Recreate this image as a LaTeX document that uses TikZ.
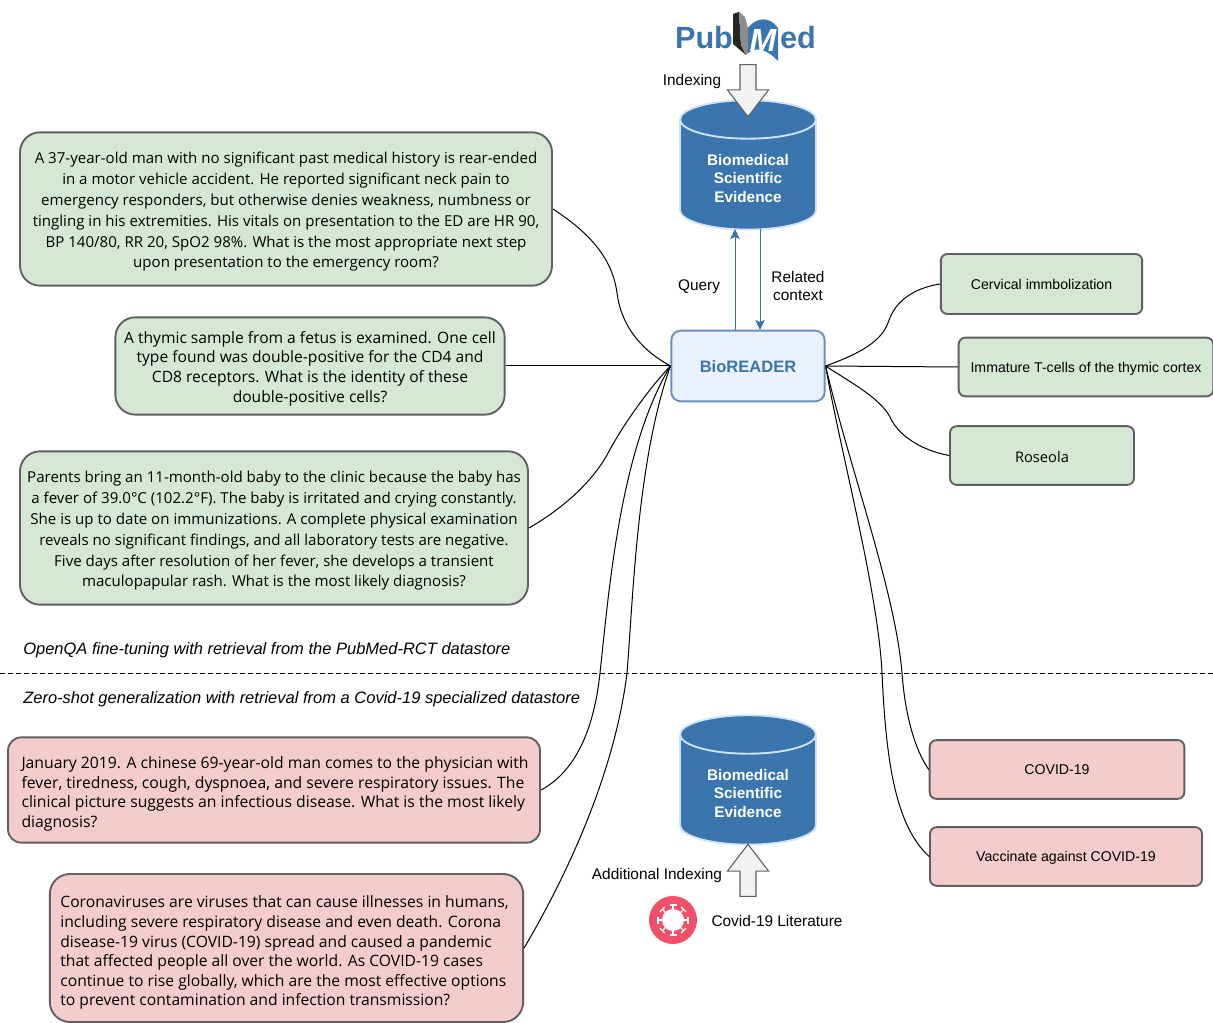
\documentclass[tikz,border=0pt]{standalone}
\usepackage{fontspec}
\setmainfont{Liberation Sans}
\newfontfamily\qafont{Open Sans}
\usetikzlibrary{positioning, arrows, arrows.meta, shapes.geometric, shapes.arrows}
\definecolor{dbblue}{HTML}{3A76AD}
\definecolor{dbrim}{HTML}{CFE4F8}
\definecolor{qagreen}{HTML}{D5E8D4}
\definecolor{qared}{HTML}{F4CCCC}
\definecolor{boxedge}{HTML}{5F5F5F}
\definecolor{virusred}{HTML}{F0506A}
\definecolor{readeredge}{HTML}{6C8EBF}
\definecolor{readerfill}{HTML}{EAF2FC}
\newcommand{\qatop}{\rule{0pt}{13pt}}
\newcommand{\sink}[2]{\raisebox{-#1}[\height][\depth]{#2}}
\tikzset{
qabox/.style={
  draw=boxedge,
  rectangle,
  line width=1.4pt,
  rounded corners=15pt,
  inner sep=0pt,
  align=center,
  font=\qafont\fontsize{11.3}{15.6}\selectfont
  },
ansbox/.style={
  draw=boxedge,
  rectangle,
  line width=1.4pt,
  rounded corners=5pt,
  inner sep=0pt,
  align=center,
  font=\fontsize{10.6}{13}\selectfont
  },
datastore/.style={
  cylinder,
  shape border rotate=90,
  aspect=0.47,
  draw=dbrim,
  line width=1.4pt,
  fill=dbblue,
  text=white,
  inner sep=0pt,
  minimum width=102pt,
  minimum height=97pt,
  align=center,
  font=\bfseries\fontsize{11.5}{13.9}\selectfont
  },
indexarrow/.style={
  single arrow,
  draw=boxedge,
  fill=black!5,
  line width=0.8pt,
  inner sep=5.6pt,
  minimum width=30pt,
  minimum height=39pt,
  single arrow head extend=9.4pt,
  single arrow tip angle=75,
  single arrow head indent=0pt
  },
tag/.style={font=\fontsize{11.55}{14.2}\selectfont, align=center, inner sep=0pt},
section/.style={font=\itshape\fontsize{12.38}{14}\selectfont, anchor=west, inner sep=0pt},
logo/.style={font=\bfseries\fontsize{23}{23}\selectfont, text=dbblue, inner sep=0pt},
curve/.style={black, line width=0.75pt},
line/.style={-{Stealth[length=7.5pt,width=7pt,inset=1.5pt]}, draw=dbblue, fill=dbblue, line width=0.75pt}
}
\begin{document}
\begin{tikzpicture}[x=0.75pt,y=-0.75pt]
\useasboundingbox (0,0) rectangle (1213,1023);

% PubMed logo
\fill[black!85] (733,14) -- (739,12) -- (741,45) -- (746,55) -- (733,44) -- cycle;
\fill[black!45] (739,12) -- (745,17) -- (748,28) -- (748,53) -- (746,55) -- (741,45) -- cycle;
\fill[dbblue] (748,28) .. controls (752,22) and (766,12) .. (778,28) -- (778,61) .. controls (768,50) and (756,46) .. (748,53) -- cycle;
\node[logo]				(pub)		at (704,38)		{Pub};
\node[logo, text=white, font=\bfseries\itshape\fontsize{24}{24}\selectfont]	(emm)	at (763,40)	{M};
\node[logo]				(ed)		at (798,38)		{ed};

% retrieval stores
\node[datastore]		(store)		at (748,175)	{\qatop Biomedical \\ Scientific \\ Evidence};
\node[datastore]		(covidstore)	at (748,790)	{\qatop Biomedical \\ Scientific \\ Evidence};
\node[indexarrow, shape border rotate=270]	(indexdown)	at (748,85.5)	{};
\node[indexarrow, shape border rotate=90]	(indexup)	at (748,875.5)	{};
\node[tag]				(indexing)	at (692,82)		{Indexing};
\node[tag]				(addindex)	at (657,876)	{Additional Indexing};
\node[circle, fill=virusred, inner sep=0pt, minimum size=36pt]	(virus)	at (673,920)	{};
\fill[white] (virus.center) circle (11);
\foreach \angle in {0,45,...,315} {
  \begin{scope}[shift={(673,920)}, rotate=\angle]
  \draw[white, line width=1pt] (0,0) -- (15,0) (15,-3.5) -- (15,3.5);
  \end{scope}
}
\node[tag]				(literature)	at (777,921)	{Covid-19 Literature};

% reader
\node[draw=readeredge, fill=readerfill, rectangle, rounded corners=7pt, line width=1.4pt,
  minimum width=115pt, minimum height=53pt, inner sep=0pt, text=dbblue,
  font=\bfseries\fontsize{12.4}{14}\selectfont]	(bio)	at (748,366)	{\sink{0.75pt}{BioREADER}};
\coordinate (queryout)	at (735,330);
\coordinate (queryin)	at (735,229);
\coordinate (contextout)	at (760,229);
\coordinate (contextin)	at (760,330);
\draw[line]	(queryout) -- (queryin);
\draw[line]	(contextout) -- (contextin);
\node[tag]				(query)		at (699,287)	{Query};
\node[tag]				(context)	at (798,286)	{Related \\ context};

% questions
\node[qabox, fill=qagreen, minimum width=399pt, minimum height=115pt]	(qone)	at (286,209)
  {\qatop A 37-year-old man with no significant past medical history is rear-ended \\ in a motor vehicle accident. He reported significant neck pain to \\ emergency responders, but otherwise denies weakness, numbness or \\ tingling in his extremities. His vitals on presentation to the ED are HR 90, \\ BP 140/80, RR 20, SpO2 98\%. What is the most appropriate next step \\ upon presentation to the emergency room?};
\node[qabox, fill=qagreen, minimum width=292pt, minimum height=73pt, font=\qafont\fontsize{11.7}{14.7}\selectfont]	(qtwo)	at (310,366)
  {\qatop A thymic sample from a fetus is examined. One cell \\ type found was double-positive for the CD4 and \\ CD8 receptors. What is the identity of these \\ double-positive cells?};
\node[qabox, fill=qagreen, minimum width=381pt, minimum height=115pt]	(qthree)	at (274,528)
  {\qatop Parents bring an 11-month-old baby to the clinic because the baby has \\ a fever of 39.0°C (102.2°F). The baby is irritated and crying constantly. \\ She is up to date on immunizations. A complete physical examination \\ reveals no significant findings, and all laboratory tests are negative. \\ Five days after resolution of her fever, she develops a transient \\ maculopapular rash. What is the most likely diagnosis?};
\node[qabox, fill=qared, minimum width=399pt, minimum height=79pt, rounded corners=10pt, font=\qafont\fontsize{11.8}{14.7}\selectfont]	(qfour)	at (274,790)
  {\hspace*{1.5pt}\sink{3pt}{\begin{tabular}{@{}l@{}}January 2019. A chinese 69-year-old man comes to the physician with \\ fever, tiredness, cough, dyspnoea, and severe respiratory issues. The \\ clinical picture suggests an infectious disease. What is the most likely \\ diagnosis?\end{tabular}}};
\node[qabox, fill=qared, minimum width=355pt, minimum height=111pt, font=\qafont\fontsize{11.75}{14.7}\selectfont]	(qfive)	at (286.5,948)
  {\hspace*{-3pt}\sink{3.75pt}{\begin{tabular}{@{}l@{}}Coronaviruses are viruses that can cause illnesses in humans, \\ including severe respiratory disease and even death. Corona \\ disease-19 virus (COVID-19) spread and caused a pandemic \\ that affected people all over the world. As COVID-19 cases \\ continue to rise globally, which are the most effective options \\ to prevent contamination and infection transmission?\end{tabular}}};

% answers
\node[ansbox, fill=qagreen, minimum width=151pt, minimum height=45pt]	(aone)	at (1041.5,284)	{Cervical immbolization};
\node[ansbox, fill=qagreen, minimum width=191pt, minimum height=44pt]	(atwo)	at (1086,367)	{\sink{1.5pt}{Immature T-cells of the thymic cortex}};
\node[ansbox, fill=qagreen, minimum width=138pt, minimum height=44pt, font=\qafont\fontsize{11}{13}\selectfont]	(athree)	at (1042,455.5)	{\sink{1pt}{Roseola}};
\node[ansbox, fill=qared, minimum width=191pt, minimum height=44pt]	(afour)	at (1057,769.5)	{COVID-19};
\node[ansbox, fill=qared, minimum width=204pt, minimum height=44pt]	(afive)	at (1066,856.5)	{\sink{0.75pt}{Vaccinate against COVID-19}};

% divider
\coordinate (ruleleft)	at (0,673);
\coordinate (ruleright)	at (1213,673);
\draw[dash pattern=on 3.75pt off 2.25pt, line width=0.75pt] (ruleleft) -- (ruleright);
\node[section]	(openqa)	at (23,650)		{OpenQA fine-tuning with retrieval from the PubMed-RCT datastore};
\node[section]	(zeroshot)	at (23,699)		{Zero-shot generalization with retrieval from a Covid-19 specialized datastore};

\draw[curve] (qone.east) .. controls (585,230) and (612,255) .. (617,293) .. controls (622,330) and (645,352) .. (bio.west);
\draw[curve] (qtwo.east) -- (bio.west);
\draw[curve] (qthree.east) .. controls (560,510) and (590,485) .. (607,455) .. controls (620,430) and (645,393) .. (bio.west);
\draw[curve] (qfour.east) .. controls (575,772) and (594,730) .. (600,673) .. controls (609,590) and (620,450) .. (bio.west);
\draw[curve] (qfive.east) .. controls (570,870) and (615,770) .. (627,673) .. controls (633,600) and (637,460) .. (bio.west);
\draw[curve] (aone.west) .. controls (915,288) and (895,300) .. (888,323) .. controls (880,345) and (850,357) .. (bio.east);
\draw[curve] (atwo.west) -- (bio.east);
\draw[curve] (athree.west) .. controls (920,450) and (898,435) .. (890,417) .. controls (880,398) and (850,382) .. (bio.east);
\draw[curve] (afour.west) .. controls (915,750) and (905,715) .. (902,673) .. controls (895,590) and (850,470) .. (bio.east);
\draw[curve] (afive.west) .. controls (895,825) and (886,760) .. (882,673) .. controls (878,590) and (840,450) .. (bio.east);
\end{tikzpicture}
\end{document}
